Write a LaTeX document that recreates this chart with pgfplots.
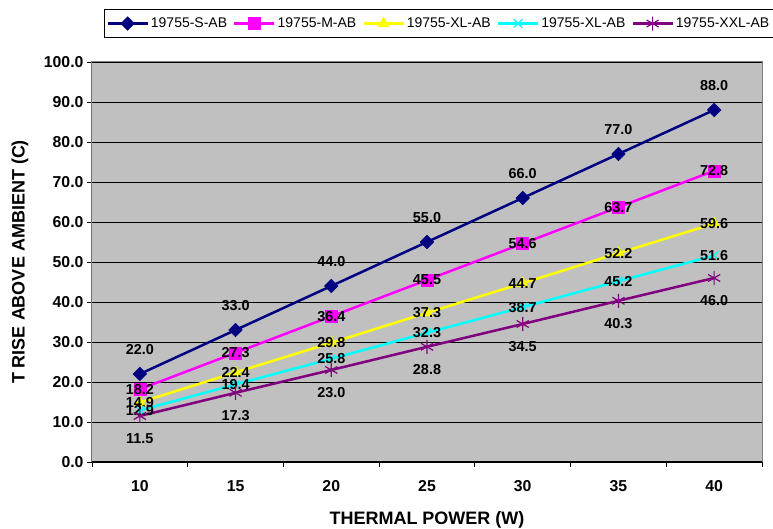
\documentclass[border=0pt]{standalone}
\usepackage{fontspec}
\setmainfont{Liberation Sans}
\usepackage{pgfplots}
\pgfplotsset{compat=1.18}
\definecolor{cS}{HTML}{000080}
\definecolor{cM}{HTML}{FF00FF}
\definecolor{cXL}{HTML}{FFFF00}
\definecolor{cXLc}{HTML}{00FFFF}
\definecolor{cXXL}{HTML}{800080}
\definecolor{bgGray}{HTML}{C0C0C0}
\begin{document}
\begin{tikzpicture}
\begin{axis}[name=ax, scale only axis, width=670pt, height=400pt,
  xmin=7.5, xmax=42.5, ymin=0, ymax=100,
  xtick={10,15,...,40}, minor xtick={7.5,12.5,...,42.5},
  ytick={0,10,...,100},
  tick align=outside, major tick length=5pt, minor tick length=5pt,
  major x tick style={draw=none},
  tick style={black, line width=0.8pt},
  xtick pos=bottom, ytick pos=left,
  ymajorgrids, grid style={black, line width=0.8pt},
  axis line style={draw=gray, line width=1pt},
  axis background/.style={fill=bgGray},
  /pgf/number format/assume math mode=true,
  ticklabel style={font=\fontsize{15.8}{18}\selectfont\bfseries},
  yticklabel style={/pgf/number format/.cd, fixed, fixed zerofill, precision=1},
  xticklabel style={yshift=-10pt},
  xlabel={THERMAL POWER (W)}, ylabel={T RISE ABOVE AMBIENT (C)},
  label style={font=\fontsize{18}{20}\selectfont\bfseries},
  xlabel style={at={(axis description cs:0.5,-0.145)}, anchor=center},
  ylabel style={at={(axis description cs:-0.1075,0.5)}, anchor=center},
  legend style={at={(0,1)}, anchor=north west, xshift=12pt, yshift=53pt,
    legend columns=5, font=\fontsize{14}{16}\selectfont, draw=black, line width=0.8pt,
    inner xsep=2pt, inner ysep=6.5pt,
    /tikz/every even column/.append style={column sep=4pt}},
  legend cell align=left,
  legend image code/.code={\draw[mark repeat=2,mark phase=2] plot coordinates {(0pt,0pt) (20pt,0pt) (40pt,0pt)};},
  every node near coord/.append style={font=\fontsize{14.4}{16}\selectfont\bfseries, black, anchor=center},
  nodes near coords={\pgfmathprintnumber[fixed,fixed zerofill,precision=1]{\pgfplotspointmeta}},
]
\addplot[cS, line width=2.5pt, mark=square*, mark size=4.8pt, mark options={rotate=45, solid, line width=0.5pt},
  every node near coord/.append style={yshift=24pt}]
  coordinates {(10,22.0) (15,33.0) (20,44.0) (25,55.0) (30,66.0) (35,77.0) (40,88.0)};
\addlegendentry{19755-S-AB}
\addplot[cM, line width=2.5pt, mark=square*, mark size=6pt, mark options={solid, line width=0.5pt}]
  coordinates {(10,18.2) (15,27.3) (20,36.4) (25,45.5) (30,54.6) (35,63.7) (40,72.8)};
\addlegendentry{19755-M-AB}
\addplot[cXL, line width=2.5pt, mark=triangle*, mark size=6.5pt, mark options={solid, line width=0.5pt}]
  coordinates {(10,14.9) (15,22.4) (20,29.8) (25,37.3) (30,44.7) (35,52.2) (40,59.6)};
\addlegendentry{19755-XL-AB}
\addplot[cXLc, line width=2.5pt, mark=x, mark size=6pt, mark options={solid, line width=1.2pt}]
  coordinates {(10,12.9) (15,19.4) (20,25.8) (25,32.3) (30,38.7) (35,45.2) (40,51.6)};
\addlegendentry{19755-XL-AB}
\addplot[cXXL, line width=2.5pt, mark=asterisk, mark size=7pt, mark options={solid, line width=1.2pt},
  every node near coord/.append style={yshift=-23pt}]
  coordinates {(10,11.5) (15,17.3) (20,23.0) (25,28.8) (30,34.5) (35,40.3) (40,46.0)};
\addlegendentry{19755-XXL-AB}
\draw[black, line width=1pt] (rel axis cs:0,1) -- (rel axis cs:0,0) -- (rel axis cs:1,0);
\end{axis}
\pgfresetboundingbox
\path[use as bounding box] ([shift={(-92pt,-67pt)}]ax.south west) rectangle ([shift={(11pt,62pt)}]ax.north east);
\end{tikzpicture}
\end{document}
